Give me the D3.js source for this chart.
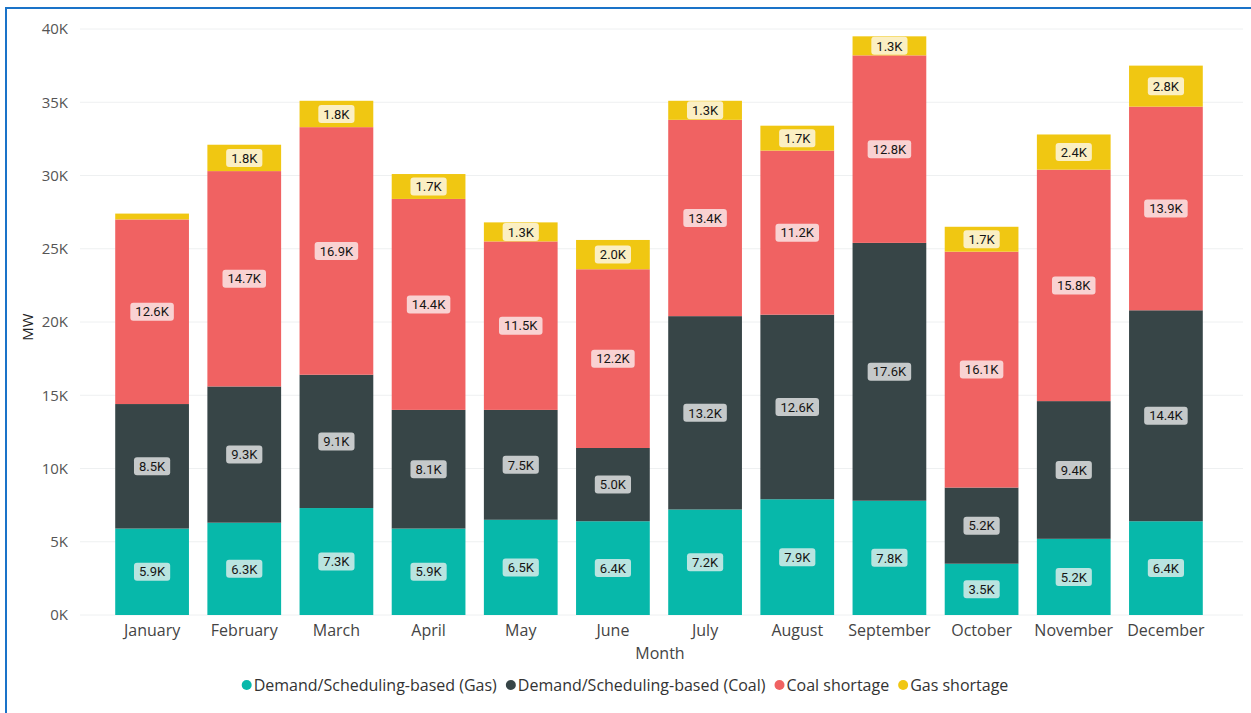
<!DOCTYPE html>
<html>
<head>
<meta charset="utf-8">
<script src="https://cdn.jsdelivr.net/npm/d3@7"></script>
<style>
  html, body { margin: 0; padding: 0; background: #fff; }
  svg { display: block; font-family: "Segoe UI", "Open Sans", "Noto Sans", sans-serif; }
</style>
</head>
<body>
<svg id="chart" width="1251" height="713"></svg>
<script>
// Monthly MW by category (thousands)
const months = ["January","February","March","April","May","June","July","August","September","October","November","December"];
const seriesNames = ["Demand/Scheduling-based (Gas)","Demand/Scheduling-based (Coal)","Coal shortage","Gas shortage"];
const gasDemand   = [5.9, 6.3, 7.3, 5.9, 6.5, 6.4, 7.2, 7.9, 7.8, 3.5, 5.2, 6.4];
const coalDemand  = [8.5, 9.3, 9.1, 8.1, 7.5, 5.0, 13.2, 12.6, 17.6, 5.2, 9.4, 14.4];
const coalShort   = [12.6, 14.7, 16.9, 14.4, 11.5, 12.2, 13.4, 11.2, 12.8, 16.1, 15.8, 13.9];
const gasShort    = [0.4, 1.8, 1.8, 1.7, 1.3, 2.0, 1.3, 1.7, 1.3, 1.7, 2.4, 2.8];
const yTicks = [0, 5, 10, 15, 20, 25, 30, 35, 40];

const colors = ["#07b8aa", "#374547", "#f06262", "#f0c712"];
const labelFills = ["#b9e4e0", "#c5c9ca", "#f9d2d2", "#fbefc3"];

const svg = d3.select("#chart");

// frame
svg.append("rect").attr("x", 6).attr("y", 8).attr("width", 1260).attr("height", 720)
  .attr("fill", "none").attr("stroke", "#1a73c8").attr("stroke-width", 2);

const seriesData = [gasDemand, coalDemand, coalShort, gasShort];
const rows = months.map((m, i) => {
  const r = { month: m };
  seriesNames.forEach((s, k) => r[s] = seriesData[k][i]);
  return r;
});
const stacked = d3.stack().keys(seriesNames)(rows);

const x = d3.scaleBand().domain(months).range([106, 1212]).paddingInner(0.2).paddingOuter(0.1);
const y = d3.scaleLinear().domain([0, 40]).range([615, 29]);

// gridlines
svg.append("g").selectAll("line").data(yTicks).join("line")
  .attr("x1", 80).attr("x2", 1243)
  .attr("y1", d => y(d)).attr("y2", d => y(d))
  .attr("stroke", "#eef0f1").attr("stroke-width", 1);

// y axis
const yAxis = svg.append("g").attr("transform", "translate(80,0)")
  .call(d3.axisLeft(y).tickValues(yTicks).tickFormat(d => d + "K").tickSize(0).tickPadding(12));
yAxis.select(".domain").remove();
yAxis.selectAll("text").attr("fill", "#555").style("font-size", "15px")
  .style("font-family", "'Segoe UI','Open Sans','Noto Sans',sans-serif");

// x axis
const xAxis = svg.append("g").attr("transform", "translate(0,615)")
  .call(d3.axisBottom(x).tickSize(0).tickPadding(10));
xAxis.select(".domain").remove();
xAxis.selectAll("text").attr("fill", "#444").style("font-size", "16px")
  .style("font-family", "'Segoe UI','Open Sans','Noto Sans',sans-serif");

// axis titles
svg.append("text").attr("x", 660).attr("y", 659).attr("text-anchor", "middle")
  .attr("fill", "#444").style("font-size", "16px").text("Month");
svg.append("text").attr("transform", "translate(33,327) rotate(-90)").attr("text-anchor", "middle")
  .attr("fill", "#222").style("font-size", "15px").text("MW");

// bars
const layers = svg.append("g").selectAll("g").data(stacked).join("g")
  .attr("fill", (d, i) => colors[i]);
layers.selectAll("rect").data(d => d).join("rect")
  .attr("x", d => x(d.data.month))
  .attr("width", x.bandwidth())
  .attr("y", d => y(d[1]))
  .attr("height", d => y(d[0]) - y(d[1]));

// value labels
const labelG = svg.append("g");
stacked.forEach((layer, k) => {
  layer.forEach(d => {
    const v = d[1] - d[0];
    if (v < 1) return;
    const cx = x(d.data.month) + x.bandwidth() / 2;
    const cy = (y(d[0]) + y(d[1])) / 2;
    const txt = v.toFixed(1) + "K";
    const g = labelG.append("g").attr("transform", `translate(${cx},${cy})`);
    const t = g.append("text").attr("text-anchor", "middle").attr("dy", "0.36em")
      .attr("fill", "#151515").style("font-size", "13px")
      .style("font-family", "Roboto, 'Noto Sans', sans-serif").text(txt);
    const w = t.node().getComputedTextLength();
    g.insert("rect", "text").attr("x", -w / 2 - 5).attr("y", -9).attr("width", w + 10).attr("height", 18)
      .attr("rx", 3).attr("fill", labelFills[k]);
  });
});

// legend
const legend = svg.append("g");
let lx = 0;
seriesNames.forEach((s, i) => {
  const g = legend.append("g").attr("transform", `translate(${lx},0)`);
  g.append("circle").attr("cx", 5).attr("cy", 0).attr("r", 5).attr("fill", colors[i]);
  const t = g.append("text").attr("x", 12).attr("dy", "0.35em").attr("fill", "#333")
    .style("font-size", "16px").text(s);
  lx += 12 + t.node().getComputedTextLength() + 9;
});
legend.attr("transform", `translate(${625 - (lx - 9) / 2},685)`);
</script>
</body>
</html>
